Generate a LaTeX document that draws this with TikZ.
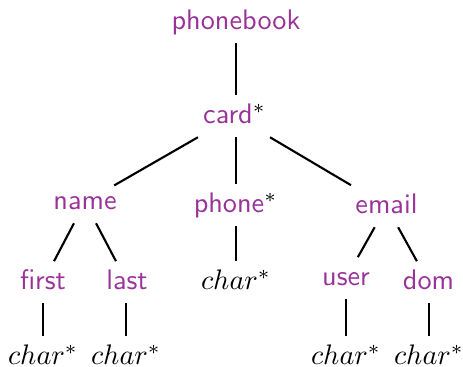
\documentclass[tikz,border=0pt]{standalone}
\definecolor{tagcol}{RGB}{153,51,153}
\begin{document}
\begin{tikzpicture}[x=0.354pt,y=-0.354pt,
  tag/.style={anchor=base,inner xsep=2pt,inner ysep=3.0pt,text height=7pt,text depth=1.5pt,font=\sffamily,text=tagcol},
  leaf/.style={anchor=base,inner xsep=2pt,inner ysep=3.0pt,text height=7pt,text depth=1.5pt},
  edge/.style={line width=0.75pt}]
\useasboundingbox (0,0) rectangle (463,367);
\node[tag] (pb) at (236,30) {phonebook};
\node[tag] (card) at (234.5,124) {card\textcolor{black}{$^*$}};
\node[tag] (name) at (85,210) {name};
\node[tag] (phone) at (235.5,213) {phone\textcolor{black}{$^*$}};
\node[tag] (email) at (386.5,214) {email};
\node[tag] (first) at (43,290) {first};
\node[tag] (last) at (127,290) {last};
\node[leaf] (pc) at (236,290) {$char^*$};
\node[tag] (user) at (346,286) {user};
\node[tag] (dom) at (428.5,290) {dom};
\node[leaf] (c1) at (43,365) {$char^*$};
\node[leaf] (c2) at (126,365) {$char^*$};
\node[leaf] (c3) at (346,365) {$char^*$};
\node[leaf] (c4) at (429,365) {$char^*$};
\draw[edge] (pb) -- (pb |- card.north);
\draw[edge,shorten >=-3pt] (card) -- (name);
\draw[edge] (card.south -| pb) -- (pb |- phone.north);
\draw[edge] (card) -- (email);
\draw[edge] (name) -- (first);
\draw[edge] (name) -- (last);
\draw[edge] (pb |- phone.south) -- (pb |- pc.north);
\draw[edge] (email) -- (user);
\draw[edge] (email) -- (dom);
\draw[edge] (first) -- (first |- c1.north);
\draw[edge] (c2 |- last.south) -- (c2);
\draw[edge] (user) -- (user |- c3.north);
\draw[edge] (c4 |- dom.south) -- (c4);
\end{tikzpicture}
\end{document}
